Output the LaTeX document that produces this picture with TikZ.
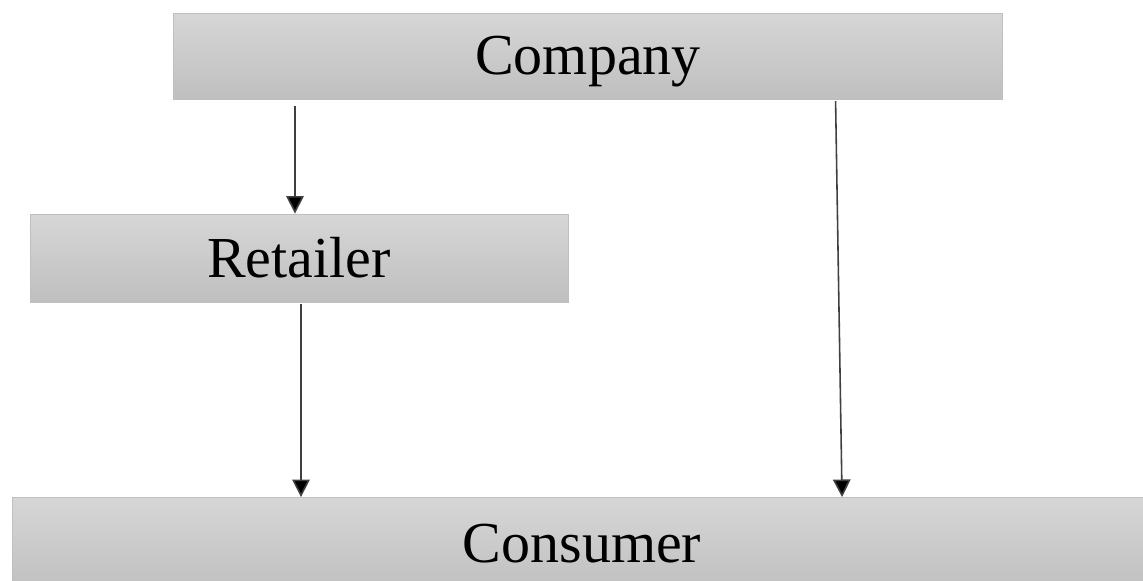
\documentclass[tikz,border=0pt]{standalone}
\usepackage{fontspec}
\setmainfont{Liberation Serif}
\usepackage{tikz}
\usetikzlibrary{arrows.meta, positioning, calc}

\begin{document}
\begin{tikzpicture}[
    x=0.02cm, y=-0.02cm,
    box/.style={draw=black!25, line width=0.5pt, rectangle, top color=black!16, bottom color=black!25, inner sep=0pt, text depth=0pt, font=\fontsize{33}{40}\selectfont},
    arrow/.style={line width=0.9pt, draw=black!75, -{Triangle[width=10pt,length=10pt,fill=black]}, >=stealth}
]
\useasboundingbox (0,0) rectangle (1143,581);
\node[box, minimum width=16.6cm, minimum height=1.72cm, text height=0.76cm] (company) at (588,56) {Company};
\node[box, minimum width=10.76cm, minimum height=1.76cm, text height=0.8cm] (retailer) at (299,258) {Retailer};
\node[box, minimum width=22.8cm, minimum height=1.9cm, text height=0.68cm] (consumer) at (582,545) {Consumer};
\draw[arrow, shorten <=4pt] ([xshift=-0.08cm]company.south -| retailer.north) -- ([xshift=-0.08cm]retailer.north);
\draw[arrow, shorten <=1pt] ([xshift=0.04cm]retailer.south) -- ([xshift=0.04cm]retailer.south |- consumer.north);
\coordinate (cstart) at ($(company.south west)!0.798!(company.south east)$);
\coordinate (cend) at ($(consumer.north west)!0.728!(consumer.north east)$);
\draw[arrow, shorten <=1pt] (cstart) -- (cend);
\end{tikzpicture}
\end{document}
